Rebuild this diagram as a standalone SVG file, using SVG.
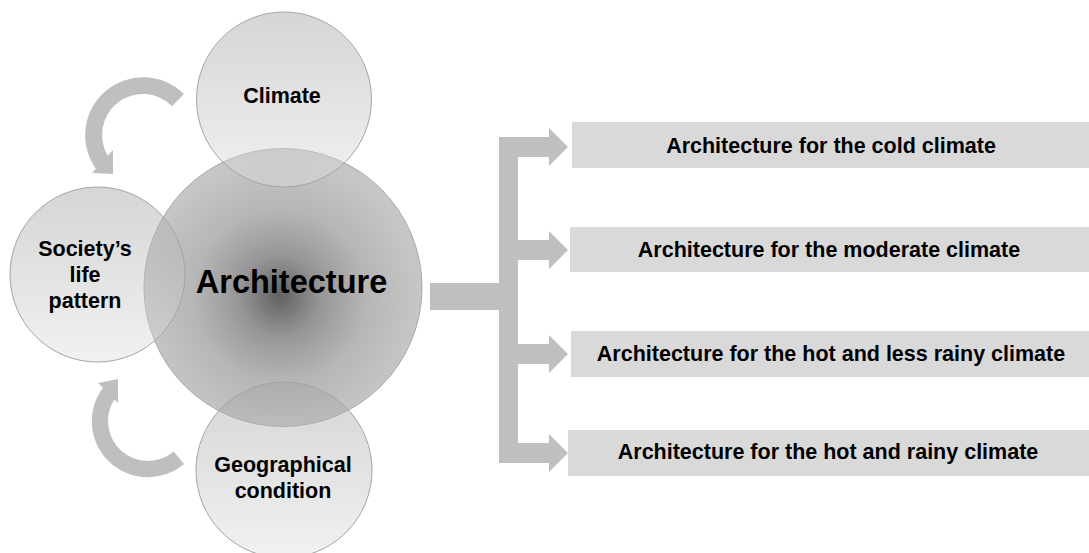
<svg xmlns="http://www.w3.org/2000/svg" width="1089" height="553" viewBox="0 0 1089 553">
  <defs>
    <radialGradient id="coreFill" cx="280" cy="296" r="139" gradientUnits="userSpaceOnUse">
      <stop offset="0" stop-color="#626262"/>
      <stop offset="0.3" stop-color="#979797"/>
      <stop offset="0.62" stop-color="#b6b6b6"/>
      <stop offset="1" stop-color="#c6c6c6"/>
    </radialGradient>
    <linearGradient id="factorFill" x1="0" y1="0" x2="0" y2="1">
      <stop offset="0" stop-color="#a2a2a2"/>
      <stop offset="1" stop-color="#e0e0e0"/>
    </linearGradient>
  </defs>
  <style>
    .core { fill: url(#coreFill); stroke: #a8a8a8; stroke-width: 1; }
    .factor { fill: url(#factorFill); fill-opacity: 0.45; stroke: #a4a4a4; stroke-width: 1; }
    .label { font-family: "Liberation Sans", Arial, sans-serif; font-weight: bold; fill: #000; text-anchor: middle; }
    .small { font-size: 21.5px; }
    .big { font-size: 32.5px; }
    .flow { fill: #bfbfbf; }
    .box { fill: #d9d9d9; }
  </style>

  <rect width="1089" height="553" fill="#ffffff"/>

  <!-- central node -->
  <g id="node-architecture">
    <circle class="core" cx="283" cy="287.5" r="139"/>
  </g>

  <!-- surrounding factors -->
  <g id="node-climate">
    <circle class="factor" cx="284" cy="99.5" r="87.5"/>
    <text class="label small" x="282" y="103">Climate</text>
  </g>
  <g id="node-society">
    <circle class="factor" cx="97.5" cy="274.5" r="87.5"/>
    <text class="label small" x="85" y="256">Society’s</text>
    <text class="label small" x="85" y="282">life</text>
    <text class="label small" x="85" y="308">pattern</text>
  </g>
  <g id="node-geography">
    <circle class="factor" cx="284" cy="470" r="88"/>
    <text class="label small" x="283" y="472">Geographical</text>
    <text class="label small" x="283" y="498">condition</text>
  </g>

  <g id="node-architecture-label">
    <text class="label big" x="291.5" y="293">Architecture</text>
  </g>

  <!-- outcome boxes -->
  <g id="node-cold">
    <rect class="box" x="572" y="122" width="530" height="46"/>
    <text class="label small" x="831" y="153">Architecture for the cold climate</text>
  </g>
  <g id="node-moderate">
    <rect class="box" x="570" y="227" width="530" height="45"/>
    <text class="label small" x="829" y="257">Architecture for the moderate climate</text>
  </g>
  <g id="node-hot-dry">
    <rect class="box" x="571" y="331" width="530" height="46"/>
    <text class="label small" x="831" y="361">Architecture for the hot and less rainy climate</text>
  </g>
  <g id="node-hot-wet">
    <rect class="box" x="568" y="430" width="530" height="46"/>
    <text class="label small" x="828" y="459">Architecture for the hot and rainy climate</text>
  </g>

  <!-- connectors -->
  <g id="connectors">
    <!-- curved arrow: climate to society -->
    <path class="flow" d="M184,94 A58,58 0 0,0 95.9,168.8 L92,173 L113,174 L113,150 L107.7,155.8 A41,41 0 0,1 172,106 Z"/>
    <!-- curved arrow: geography to society -->
    <path class="flow" d="M184,464 A56,56 0 0,1 102.9,387.8 L98,383 L118,379 L118,403 L114.3,399.4 A40,40 0 0,0 173.7,451.6 Z"/>
    <!-- branching block arrow -->
    <rect class="flow" x="430" y="283" width="70" height="27"/>
    <rect class="flow" x="499" y="137" width="19" height="326"/>
    <path class="flow" d="M518,137 H549 V128 L568,147 L549,166 V157 H518 Z"/>
    <path class="flow" d="M518,240 H549 V231 L568,250 L549,269 V260 H518 Z"/>
    <path class="flow" d="M518,344 H549 V335 L568,354 L549,373 V364 H518 Z"/>
    <path class="flow" d="M518,443 H549 V434 L568,453 L549,472 V463 H518 Z"/>
  </g>
</svg>
